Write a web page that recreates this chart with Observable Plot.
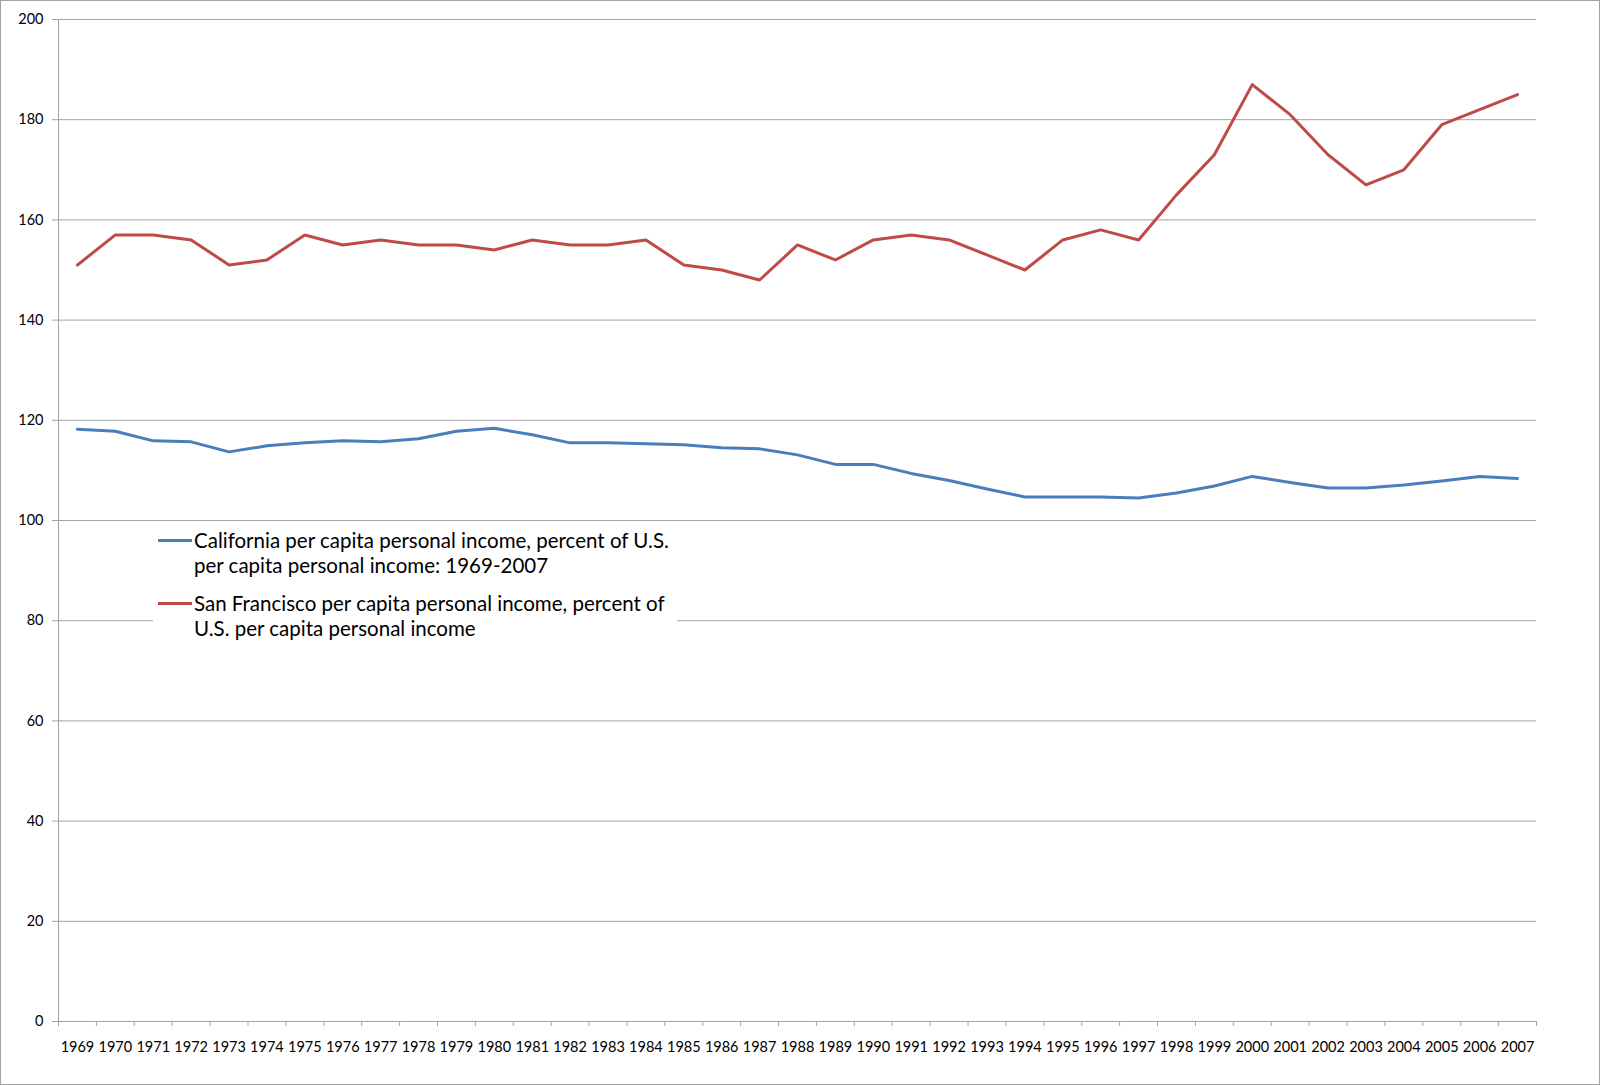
<!DOCTYPE html>
<html>
<head>
<meta charset="utf-8">
<script src="https://cdn.jsdelivr.net/npm/d3@7"></script>
<script src="https://cdn.jsdelivr.net/npm/@observablehq/plot@0.6"></script>
<style>
  body { margin: 0; background: #fff; }
  #wrap { position: relative; width: 1600px; height: 1085px; border: 1px solid #a3a3a3; box-sizing: border-box; font-family: Lato, "Open Sans", sans-serif; background:#fff; overflow:hidden; }
  #wrap svg { display: block; }
  #legend { position: absolute; left: 152px; top: 521px; width: 524px; height: 123px; background: #fff; }
  .item { position: absolute; left: 0; width: 524px; }
  .swatch { position: absolute; left: 5px; width: 34px; height: 3px; }
  .label { position: absolute; left: 41px; font-size: 20.5px; line-height: 25px; color: #000; white-space: nowrap; }
</style>
</head>
<body>
<div id="wrap">
  <div id="legend"></div>
</div>
<script>
const years = [1969, 1970, 1971, 1972, 1973, 1974, 1975, 1976, 1977, 1978, 1979, 1980, 1981, 1982, 1983, 1984, 1985, 1986, 1987, 1988, 1989, 1990, 1991, 1992, 1993, 1994, 1995, 1996, 1997, 1998, 1999, 2000, 2001, 2002, 2003, 2004, 2005, 2006, 2007];

const california = [118.2, 117.8, 115.9, 115.7, 113.7, 114.9, 115.5, 115.9, 115.7, 116.3, 117.8, 118.4, 117.1, 115.5, 115.5, 115.3, 115.1, 114.5, 114.3, 113.1, 111.2, 111.2, 109.4, 108.0, 106.3, 104.7, 104.7, 104.7, 104.5, 105.5, 106.9, 108.8, 107.6, 106.5, 106.5, 107.1, 107.9, 108.8, 108.4];

const sanFrancisco = [151, 157, 157, 156, 151, 152, 157, 155, 156, 155, 155, 154, 156, 155, 155, 156, 151, 150, 148, 155, 152, 156, 157, 156, 153, 150, 156, 158, 156, 165, 173, 187, 181, 173, 167, 170, 179, 182, 185];

const yTicks = [0, 20, 40, 60, 80, 100, 120, 140, 160, 180, 200];

const seriesNames = [
  "California per capita personal income, percent of U.S. per capita personal income: 1969-2007",
  "San Francisco per capita personal income, percent of U.S. per capita personal income"
];
const legendLines = [
  ["California per capita personal income, percent of U.S.", "per capita personal income: 1969-2007"],
  ["San Francisco per capita personal income, percent of", "U.S. per capita personal income"]
];
const seriesColors = ["#4a7ebb", "#be4b48"];

const rows = years.flatMap((y, i) => [
  {year: y, value: california[i], series: seriesNames[0]},
  {year: y, value: sanFrancisco[i], series: seriesNames[1]}
]);
const bounds = years.map(y => y - 0.5).concat([years[years.length - 1] + 0.5]);
const gridColor = "#a3a3a3";

const chart = Plot.plot({
  width: 1598,
  height: 1083,
  marginLeft: 57,
  marginRight: 63,
  marginTop: 18,
  marginBottom: 63,
  style: {fontFamily: "Lato, 'Open Sans', sans-serif", fontSize: "14.5px", color: "#000", background: "#fff"},
  x: {domain: [bounds[0], bounds[bounds.length - 1]]},
  y: {domain: [0, 200]},
  color: {domain: seriesNames, range: seriesColors},
  marks: [
    Plot.gridY(yTicks, {stroke: gridColor, strokeOpacity: 1}),
    Plot.ruleX([bounds[0]], {stroke: gridColor}),
    Plot.ruleY([0], {stroke: gridColor}),
    Plot.axisY(yTicks, {tickSize: 6, tickPadding: 9, stroke: gridColor, label: null}),
    Plot.axisX(bounds, {tickSize: 5, tickFormat: () => "", stroke: gridColor, label: null}),
    Plot.axisX(years, {tickSize: 0, tickPadding: 20, tickFormat: d => String(d), label: null}),
    Plot.lineY(rows, {x: "year", y: "value", stroke: "series", strokeWidth: 3})
  ]
});
document.getElementById("wrap").insertBefore(chart, document.getElementById("legend"));

const legend = document.getElementById("legend");
const itemTops = [6, 69];
legendLines.forEach((lines, i) => {
  const item = document.createElement("div");
  item.className = "item";
  item.style.top = itemTops[i] + "px";
  const sw = document.createElement("div");
  sw.className = "swatch";
  sw.style.background = seriesColors[i];
  sw.style.top = "11px";
  const lab = document.createElement("div");
  lab.className = "label";
  lab.style.top = "0px";
  lab.innerHTML = lines.join("<br>");
  item.appendChild(sw);
  item.appendChild(lab);
  legend.appendChild(item);
});
</script>
</body>
</html>
